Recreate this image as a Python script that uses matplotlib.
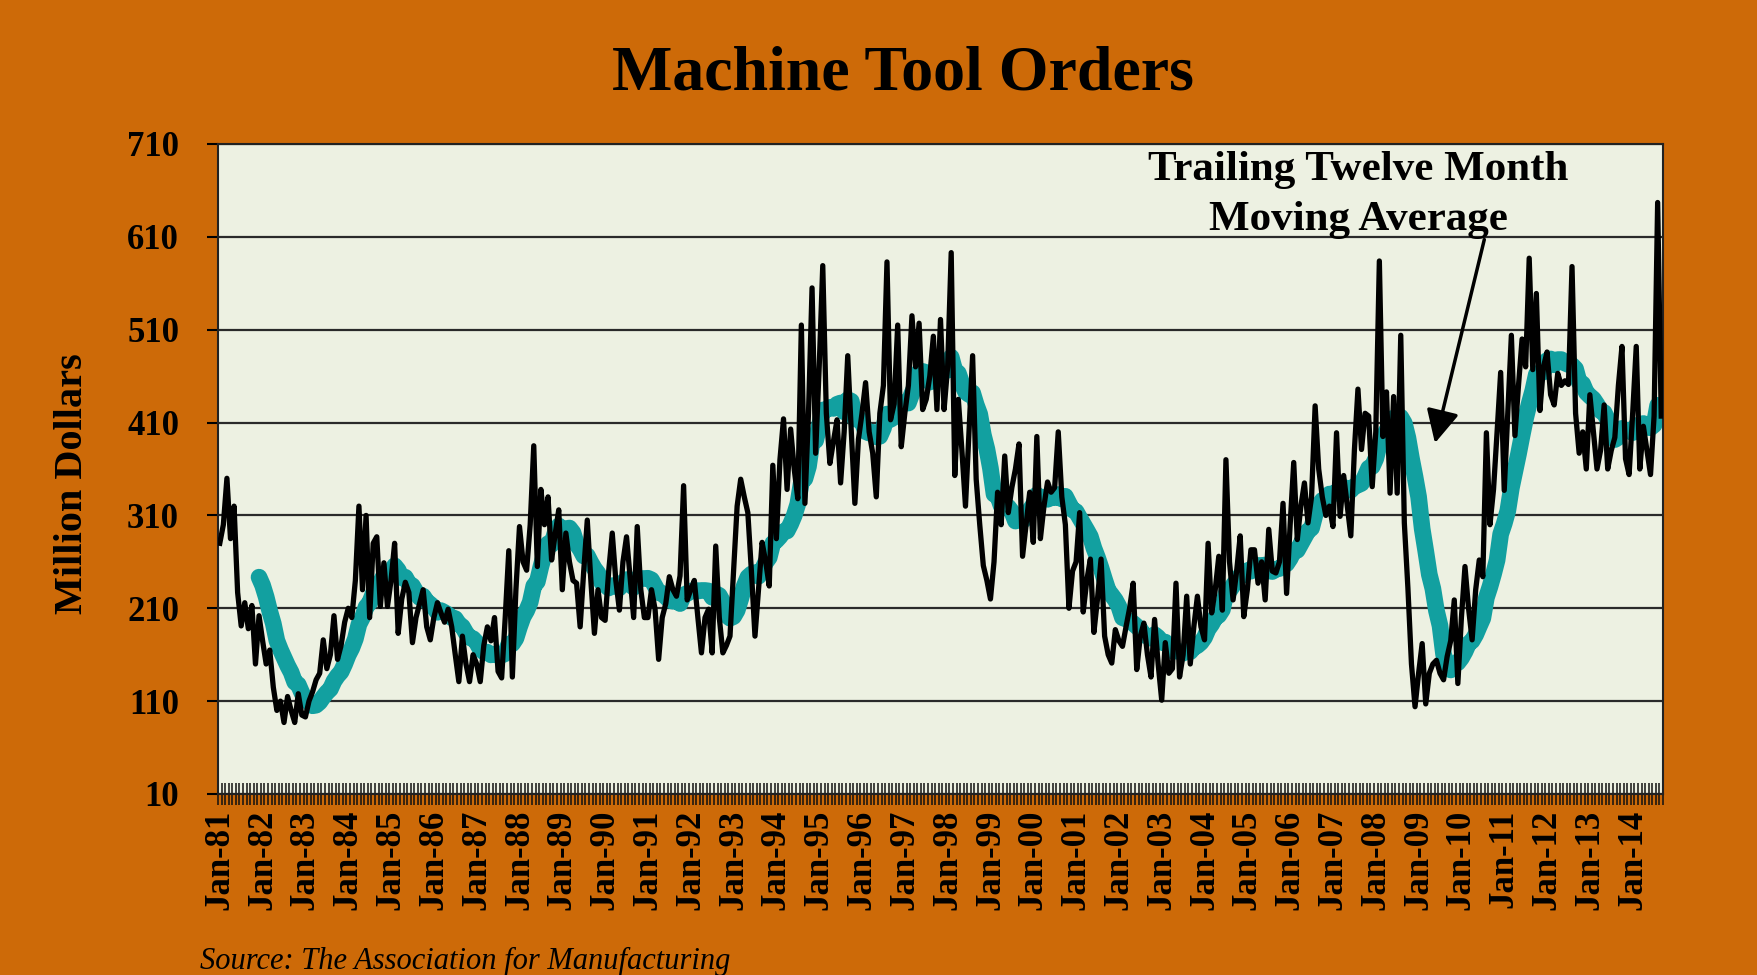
import numpy as np
import pandas as pd
import matplotlib
matplotlib.use("Agg")
import matplotlib.pyplot as plt

plt.rcParams['font.family'] = ['Liberation Serif', 'DejaVu Serif']

# monthly machine tool orders, million dollars, Jan 1981 onwards
orders = [
    280, 300, 350, 285, 320, 227, 191, 216, 188, 213, 150, 202,  # 1981
    175, 150, 165, 125, 100, 110, 87, 115, 100, 87, 118, 95,     # 1982
    93, 110, 120, 133, 140, 176, 145, 160, 202, 155, 170, 195,   # 1983
    210, 200, 240, 320, 230, 310, 200, 280, 287, 212, 259, 212,  # 1984
    240, 280, 183, 220, 238, 227, 173, 200, 215, 230, 190, 176,  # 1985
    200, 216, 205, 195, 209, 190, 160, 131, 180, 150, 131, 160,  # 1986
    150, 131, 170, 190, 175, 200, 142, 135, 200, 272, 136, 230,  # 1987
    298, 260, 251, 300, 385, 255, 338, 300, 330, 262, 290, 316,  # 1988
    230, 291, 260, 240, 237, 190, 250, 305, 240, 183, 230, 200,  # 1989
    197, 250, 291, 240, 208, 260, 287, 244, 200, 298, 230, 200,  # 1990
    200, 230, 209, 155, 200, 215, 244, 230, 223, 245, 342, 219,  # 1991
    230, 240, 200, 162, 200, 209, 162, 277, 200, 162, 170, 180,  # 1992
    250, 320, 349, 330, 313, 250, 180, 230, 281, 260, 234, 364,  # 1993
    285, 370, 414, 338, 403, 360, 328, 515, 323, 420, 555, 377,  # 1994
    470, 579, 420, 366, 390, 413, 345, 400, 482, 400, 323, 392,  # 1995
    420, 453, 400, 377, 330, 420, 450, 583, 413, 430, 515, 384,  # 1996
    420, 450, 525, 470, 517, 424, 435, 460, 503, 424, 521, 424,  # 1997
    470, 593, 353, 435, 380, 320, 400, 482, 349, 300, 256, 240,  # 1998
    220, 260, 335, 300, 374, 313, 340, 360, 387, 266, 300, 335,  # 1999
    281, 395, 285, 320, 346, 335, 340, 400, 330, 300, 210, 250,  # 2000
    260, 313, 206, 240, 263, 184, 220, 263, 180, 160, 151, 187,  # 2001
    175, 169, 190, 210, 237, 144, 180, 194, 160, 136, 198, 150,  # 2002
    111, 173, 140, 145, 237, 136, 160, 223, 150, 190, 223, 190,  # 2003
    176, 280, 205, 230, 266, 208, 370, 260, 219, 250, 288, 201,  # 2004
    230, 273, 273, 237, 260, 219, 295, 250, 248, 260, 323, 226,  # 2005
    300, 367, 284, 320, 345, 302, 330, 428, 360, 330, 310, 320,  # 2006
    298, 399, 309, 353, 320, 288, 380, 446, 381, 420, 417, 341,  # 2007
    400, 584, 395, 443, 334, 438, 334, 504, 302, 232, 150, 104,  # 2008
    140, 172, 107, 140, 150, 154, 140, 133, 158, 175, 219, 129,  # 2009
    200, 255, 210, 176, 230, 262, 244, 399, 300, 338, 400, 464,  # 2010
    337, 420, 504, 396, 450, 500, 470, 587, 467, 549, 423, 470,  # 2011
    486, 440, 429, 463, 450, 455, 451, 578, 420, 377, 400, 360,  # 2012
    440, 400, 360, 380, 429, 360, 380, 394, 450, 492, 371, 354,  # 2013
    420, 492, 360, 406, 380, 354, 417, 647, 417,                 # 2014
]
first_month = "1981-01"
y_ticks = list(range(10, 711, 100))

ORANGE = '#CD6A08'
PLOT_BG = '#EDF1E2'
TEAL = '#12A0A0'

months = pd.date_range(first_month, periods=len(orders), freq='MS')
x = np.arange(len(orders))
ttm = pd.Series(orders).rolling(12).mean()

fig = plt.figure(figsize=(17.58, 9.75), dpi=100, facecolor=ORANGE)
ax = fig.add_axes([218 / 1758, 1 - 794 / 975, 1445 / 1758, 650 / 975])
ax.set_facecolor(PLOT_BG)

ax.plot(x, ttm, color=TEAL, lw=12, solid_capstyle='round', zorder=2)
ax.plot(x, orders, color='black', lw=3.8, zorder=3)

ax.set_xlim(-0.5, len(orders) - 0.5)
ax.set_ylim(10, 710)
ax.set_yticks(y_ticks)
ax.grid(axis='y', color='#2a2a2a', lw=1.6)
ax.set_axisbelow(True)

jan = np.where(months.month == 1)[0]
ax.set_xticks(jan)
ax.set_xticklabels(months[jan].strftime('%b-%y'))
ax.set_xticks(np.arange(-0.5, len(orders), 1), minor=True)
ax.tick_params(axis='x', which='major', length=0, pad=11, labelsize=25, labelrotation=90)
ax.tick_params(axis='x', which='minor', direction='inout', length=16, width=1.1, color='#111111')
ax.tick_params(axis='y', direction='out', length=8, width=1.5, pad=20, labelsize=25)
for lab in ax.get_xticklabels() + ax.get_yticklabels():
    lab.set_fontweight('bold')
for sp in ax.spines.values():
    sp.set_color('#222222')
    sp.set_linewidth(1.5)

ax.annotate('', xy=(340.4, 385), xytext=(354.6, 610),
            arrowprops=dict(arrowstyle='-|>,head_length=0.8,head_width=0.4',
                            lw=2.5, color='black', mutation_scale=25), zorder=5)
ax.text(319, 655, 'Trailing Twelve Month\nMoving Average', ha='center', va='center',
        fontsize=31, fontweight='bold', linespacing=1.4, zorder=5)

fig.text(903 / 1758, 1 - 75 / 975, 'Machine Tool Orders', ha='center', va='center',
         fontsize=46, fontweight='bold')
fig.text(73 / 1758, 1 - 484 / 975, 'Million Dollars', ha='center', va='center',
         rotation=90, fontsize=29, fontweight='bold')
fig.text(200 / 1758, 1 - 961 / 975, 'Source: The Association for Manufacturing',
         ha='left', va='center', fontsize=22, style='italic')

fig.savefig('out.png', dpi=100, facecolor=fig.get_facecolor())
